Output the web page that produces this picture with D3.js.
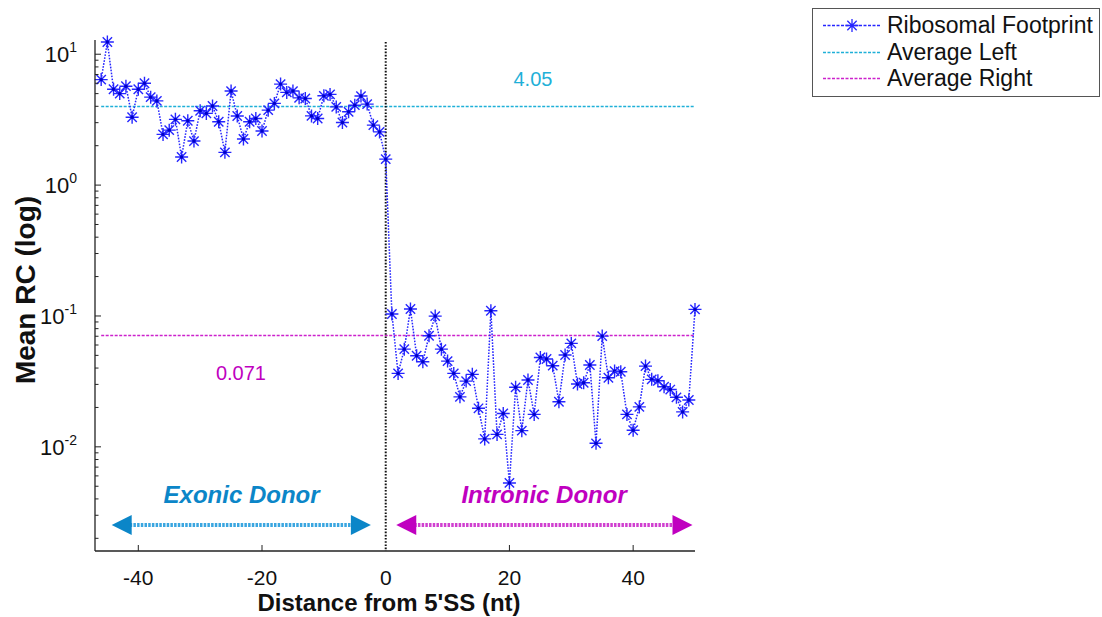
<!DOCTYPE html>
<html>
<head>
<meta charset="utf-8">
<script src="https://cdn.jsdelivr.net/npm/d3@7"></script>
<style>
    html, body { margin: 0; padding: 0; background: #fff; }
    svg { display: block; font-family: 'Liberation Sans', Arial, sans-serif; }
</style>
</head>
<body>
<svg id="chart"></svg>
<script>
// distance from 5'SS (nt), exon side then intron side
var exonPos = [-46, -45, -44, -43, -42, -41, -40, -39, -38, -37, -36, -35, -34, -33, -32, -31,
    -30, -29, -28, -27, -26, -25, -24, -23, -22, -21, -20, -19, -18, -17, -16, -15,
    -14, -13, -12, -11, -10, -9, -8, -7, -6, -5, -4, -3, -2, -1, 0];
var exonRC = [6.4, 12.4, 5.4, 5.0, 5.7, 3.3, 5.4, 6.0, 4.7, 4.4, 2.44, 2.63, 3.18, 1.64, 3.10, 2.17,
    3.70, 3.53, 4.02, 3.05, 1.78, 5.23, 3.37, 2.25, 3.05, 3.23, 2.59, 3.74, 4.21, 5.91, 5.11, 5.23,
    4.64, 4.59, 3.38, 3.23, 4.81, 4.93, 3.96, 3.01, 3.63, 4.08, 4.79, 4.16, 2.87, 2.55, 1.58];

var intronPos = [1, 2, 3, 4, 5, 6, 7, 8, 9, 10, 11, 12, 13, 14, 15, 16, 17, 18, 19, 20,
    21, 22, 23, 24, 25, 26, 27, 28, 29, 30, 31, 32, 33, 34, 35, 36, 37, 38, 39, 40,
    41, 42, 43, 44, 45, 46, 47, 48, 49, 50];
var intronRC = [0.1035, 0.0364, 0.0558, 0.113, 0.0497, 0.0447, 0.0706, 0.0998, 0.0558, 0.0452,
    0.0364, 0.0241, 0.0318, 0.0358, 0.0197, 0.0115, 0.1096, 0.01245, 0.0180, 0.0053,
    0.0285, 0.0133, 0.0324, 0.0177, 0.0482, 0.0469, 0.0417, 0.0221, 0.0503, 0.0617,
    0.0302, 0.0309, 0.0422, 0.01064, 0.0702, 0.0337, 0.0379, 0.0375, 0.0177, 0.0134,
    0.0202, 0.0414, 0.0328, 0.0320, 0.0288, 0.0274, 0.0239, 0.0185, 0.0228, 0.1123];

var averageLeft = 4.05, averageRight = 0.071;
var xTicks = [-40, -20, 0, 20, 40];
var yTicks = [1e-2, 1e-1, 1, 10];
var legendLabels = ['Ribosomal Footprint', 'Average Left', 'Average Right'];

(function() {
    'use strict';

    var WIDTH = 1102, HEIGHT = 617;
    var plot = { left: 95, right: 695, top: 42, bottom: 551 };
    var BLUE = '#2626ff', CYAN = '#1fb0d8', MAGENTA = '#c000c0';

    var svg = d3.select('#chart').attr('width', WIDTH).attr('height', HEIGHT);
    svg.append('rect').attr('width', WIDTH).attr('height', HEIGHT).attr('fill', '#fff');

    var x = d3.scaleLinear().domain([-47, 50]).range([plot.left, plot.right]);
    var y = d3.scaleLog().domain([0.0016, 12.4]).range([plot.bottom, plot.top]);
    var crisp = v => Math.round(v) + 0.5;

    var points = exonPos.map((p, i) => ({ x: p, v: exonRC[i] }))
        .concat(intronPos.map((p, i) => ({ x: p, v: intronRC[i] })));

    // annotation arrows (under everything else)
    var annot = svg.append('g');
    function arrow(x0, x1, color, shaft) {
        var yy = y(0.00253), hl = 20, hh = 10;
        var a = x(x0), b = x(x1);
        annot.append('line')
            .attr('x1', a + hl - 2).attr('x2', b - hl + 2).attr('y1', yy).attr('y2', yy)
            .attr('stroke', shaft).attr('stroke-width', 4).attr('stroke-dasharray', '2.5,1.2');
        annot.append('path')
            .attr('d', `M${a},${yy} L${a + hl},${yy - hh} L${a + hl},${yy + hh} Z`)
            .attr('fill', color);
        annot.append('path')
            .attr('d', `M${b},${yy} L${b - hl},${yy - hh} L${b - hl},${yy + hh} Z`)
            .attr('fill', color);
    }
    arrow(-44.3, -2.4, '#0b86c8', '#3aa6e0');
    arrow(1.7, 49.6, MAGENTA, '#d040d0');

    annot.append('text').attr('x', x(-23.3)).attr('y', y(0.0037))
        .attr('text-anchor', 'middle').attr('font-size', 24).attr('font-weight', 'bold')
        .attr('font-style', 'italic').attr('fill', '#0b86c8').text('Exonic Donor');
    annot.append('text').attr('x', x(25.6)).attr('y', y(0.0037))
        .attr('text-anchor', 'middle').attr('font-size', 24).attr('font-weight', 'bold')
        .attr('font-style', 'italic').attr('fill', MAGENTA).text('Intronic Donor');

    // averages
    [[averageLeft, CYAN], [averageRight, '#cc22cc']].forEach(a => {
        svg.append('line')
            .attr('x1', x(-46)).attr('x2', x(50))
            .attr('y1', crisp(y(a[0]))).attr('y2', crisp(y(a[0])))
            .attr('stroke', a[1]).attr('stroke-width', 1.5).attr('stroke-dasharray', '3,1.5');
    });

    svg.append('text').attr('x', x(23.8)).attr('y', y(5.7))
        .attr('text-anchor', 'middle').attr('font-size', 20).attr('fill', CYAN)
        .text(averageLeft.toFixed(2));
    svg.append('text').attr('x', x(-23.4)).attr('y', y(0.0324))
        .attr('text-anchor', 'middle').attr('font-size', 20).attr('fill', MAGENTA)
        .text(String(averageRight));

    // splice site marker
    svg.append('line')
        .attr('x1', x(0)).attr('x2', x(0)).attr('y1', plot.top).attr('y2', plot.bottom)
        .attr('stroke', '#111').attr('stroke-width', 2).attr('stroke-dasharray', '1.6,1.6');

    // footprint series
    var line = d3.line().x(d => x(d.x)).y(d => y(d.v));
    svg.append('path').datum(points)
        .attr('d', line).attr('fill', 'none')
        .attr('stroke', BLUE).attr('stroke-width', 1.5).attr('stroke-dasharray', '1.6,1.4');

    var r = 6.5, rd = r * 0.72;
    var star = `M0,${-r}V${r}M${-r},0H${r}M${-rd},${-rd}L${rd},${rd}M${-rd},${rd}L${rd},${-rd}`;
    var marks = svg.append('g').selectAll('g').data(points).enter()
        .append('g').attr('transform', d => `translate(${x(d.x)},${y(d.v)})`);
    marks.append('path').attr('d', star).attr('stroke', BLUE).attr('stroke-width', 1.4).attr('fill', 'none');
    marks.append('circle').attr('r', 1.7).attr('fill', '#0000c8');

    // axes
    var axes = svg.append('g').attr('stroke', '#222').attr('fill', 'none');
    axes.append('line').attr('x1', plot.left).attr('x2', plot.left)
        .attr('y1', plot.top - 2).attr('y2', plot.bottom).attr('stroke-width', 1.3);
    axes.append('line').attr('x1', plot.left).attr('x2', plot.right)
        .attr('y1', plot.bottom).attr('y2', plot.bottom).attr('stroke-width', 1.3);

    xTicks.filter(t => t !== 0).forEach(t => {
        axes.append('line').attr('x1', x(t)).attr('x2', x(t))
            .attr('y1', plot.bottom).attr('y2', plot.bottom - 6);
    });
    svg.append('g').selectAll('text').data(xTicks).enter()
        .append('text')
        .attr('x', d => x(d)).attr('y', plot.bottom + 34)
        .attr('text-anchor', 'middle').attr('font-size', 21).attr('fill', '#111')
        .text(d => d);

    // log ticks
    var minor = [];
    [1e-3, 1e-2, 1e-1, 1, 10].forEach(dec => {
        for (var k = 2; k <= 9; k++) {
            var v = dec * k;
            if (v >= y.domain()[0] && v <= y.domain()[1]) minor.push(v);
        }
    });
    minor.forEach(v => {
        axes.append('line').attr('x1', plot.left).attr('x2', plot.left + 3.5)
            .attr('y1', y(v)).attr('y2', y(v));
    });
    yTicks.forEach(v => {
        axes.append('line').attr('x1', plot.left).attr('x2', plot.left + 6)
            .attr('y1', y(v)).attr('y2', y(v));
    });
    var yl = svg.append('g').selectAll('text').data(yTicks).enter()
        .append('text')
        .attr('x', plot.left - 18).attr('y', d => y(d) + 8)
        .attr('text-anchor', 'end').attr('font-size', 22).attr('fill', '#111');
    yl.append('tspan').text('10');
    yl.append('tspan').attr('font-size', 14).attr('dy', -10).text(d => Math.round(Math.log10(d)));

    // titles
    svg.append('text').attr('x', (plot.left + plot.right) / 2 - 6).attr('y', 611)
        .attr('text-anchor', 'middle').attr('font-size', 24).attr('font-weight', 'bold')
        .attr('fill', '#111').text("Distance from 5'SS (nt)");
    svg.append('text').attr('transform', 'translate(35,290) rotate(-90)')
        .attr('text-anchor', 'middle').attr('font-size', 28).attr('font-weight', 'bold')
        .attr('fill', '#111').text('Mean RC (log)');

    // legend
    var lg = svg.append('g');
    lg.append('rect').attr('x', 812.5).attr('y', 8.5).attr('width', 287).attr('height', 88)
        .attr('fill', '#fff').attr('stroke', '#555').attr('stroke-width', 1);
    var legendColors = [BLUE, CYAN, '#cc22cc'];
    legendLabels.forEach((label, i) => {
        var ly = 25 + i * 26.5;
        lg.append('line').attr('x1', 823).attr('x2', 881).attr('y1', crisp(ly)).attr('y2', crisp(ly))
            .attr('stroke', legendColors[i]).attr('stroke-width', 1.5).attr('stroke-dasharray', '3,1.5');
        if (i === 0) {
            lg.append('path').attr('d', star).attr('transform', `translate(852,${crisp(ly)})`)
                .attr('stroke', BLUE).attr('stroke-width', 1.3).attr('fill', 'none');
        }
        lg.append('text').attr('x', 887).attr('y', ly + 8)
            .attr('font-size', 23).attr('fill', '#111').text(label);
    });
})();
</script>
</body>
</html>
